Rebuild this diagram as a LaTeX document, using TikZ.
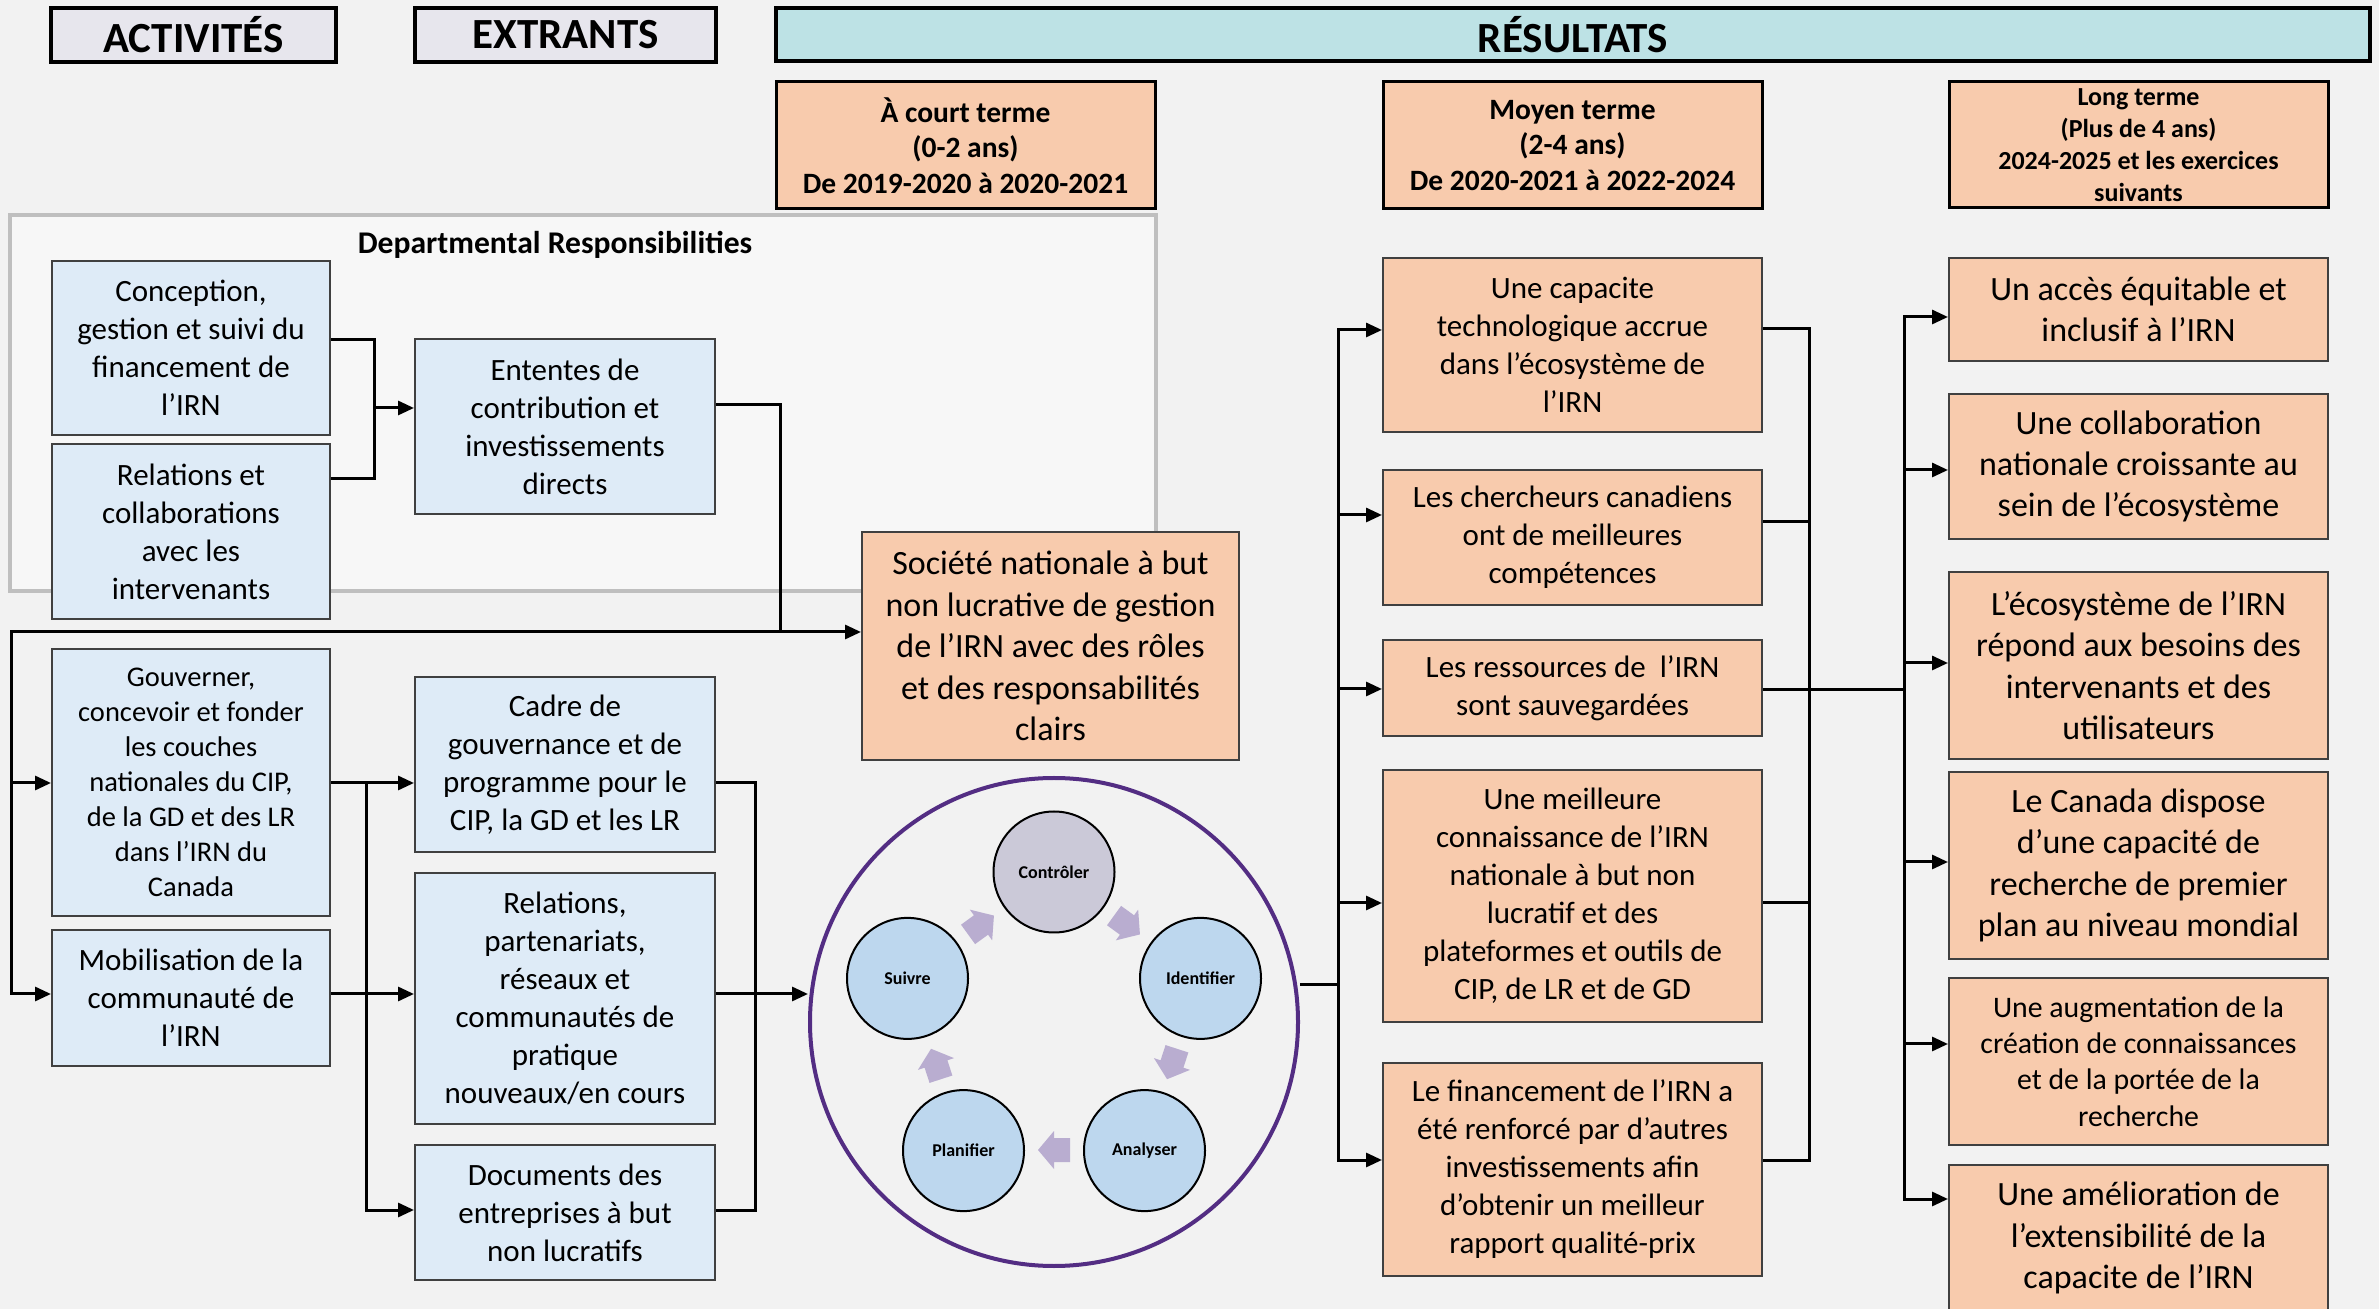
\documentclass[tikz,border=0pt]{standalone}
\usepackage{fontspec}
\setmainfont{Carlito}
\usetikzlibrary{arrows.meta}

\definecolor{bgc}{HTML}{F2F2F2}
\definecolor{deptfill}{HTML}{F7F7F7}
\definecolor{deptline}{HTML}{BFBFBF}
\definecolor{actblue}{HTML}{DEEBF7}
\definecolor{resorange}{HTML}{F8CBAD}
\definecolor{boxline}{HTML}{404040}
\definecolor{hdrgray}{HTML}{E7E6ED}
\definecolor{hdrteal}{HTML}{BDE2E5}
\definecolor{stepblue}{HTML}{BDD7EE}
\definecolor{steplav}{HTML}{CBC9D8}
\definecolor{cyclearrow}{HTML}{B9ADD0}
\definecolor{ringpurple}{HTML}{532D83}

% rectangular node given by its corners (in pixel units of the picture)
% #1 style, #2 name, #3 x1, #4 y1, #5 x2, #6 y2, #7 text
\newcommand\boxat[7]{%
  \node[#1,minimum width={(#5-#3)*0.5pt},minimum height={(#6-#4)*0.5pt}]
    (#2) at ({(#3+#5)/2},{(#4+#6)/2}) {#7};}

% block arrow of the management cycle: #1 x, #2 y, #3 direction
\newcommand\cyclearrowat[3]{%
  \fill[cyclearrow,shift={(#1,#2)},rotate=#3]
    (-16,-12) -- (0,-12) -- (0,-19) -- (16,0) -- (0,19) -- (0,12) -- (-16,12) -- cycle;}

\begin{document}
\begin{tikzpicture}[x=0.5pt,y=-0.5pt,
  conn/.style={line width=1.5pt,draw=black},
  arr/.style={conn,-{Triangle[length=8pt,width=7pt]}},
  arrs/.style={conn,{Triangle[length=8pt,width=7pt]}-{Triangle[length=8pt,width=7pt]}},
  box/.style={draw=boxline,line width=1pt,align=center,inner sep=0pt},
  bodyfont/.style={font=\fontsize{15.5}{19}\selectfont},
  bigfont/.style={font=\fontsize{17}{20.7}\selectfont},
  actbox/.style={box,fill=actblue,bodyfont},
  resbox/.style={box,fill=resorange,bodyfont},
  hdr/.style={draw=black,line width=1.75pt,fill=hdrgray,inner sep=0pt,
    font=\bfseries\fontsize{21.5}{25}\selectfont},
  termbox/.style={draw=black,line width=1.5pt,fill=resorange,align=center,inner sep=0pt,
    font=\bfseries\fontsize{14.75}{17.8}\selectfont},
  stepnode/.style={circle,draw=black,line width=1pt,minimum size=60.5pt,inner sep=0pt,
    fill=stepblue,font=\bfseries\fontsize{9}{11}\selectfont}
]
\useasboundingbox (0,0) rectangle (2379,1309);
\clip (0,0) rectangle (2379,1309);
\fill[bgc] (0,0) rectangle (2379,1309);

% column headers
\boxat{hdr}{hact}{51}{8}{336}{62}{ACTIVITÉS}
\boxat{hdr}{hext}{415}{8}{716}{62}{EXTRANTS}
\boxat{hdr,fill=hdrteal}{hres}{776}{8}{2370}{61}{RÉSULTATS}

% time horizons
\boxat{termbox}{tshort}{776}{82}{1155}{209}{À court terme\\(0-2 ans)\\De 2019-2020 à 2020-2021}
\boxat{termbox}{tmid}{1383}{82}{1762}{209}{Moyen terme\\(2-4 ans)\\De 2020-2021 à 2022-2024}
\boxat{termbox,font=\bfseries\fontsize{13}{16}\selectfont}{tlong}{1949}{82}{2328}{208}{Long terme\\(Plus de 4 ans)\\2024-2025 et les exercices\\suivants}

% departmental responsibilities frame
\boxat{draw=deptline,line width=1.6pt,fill=deptfill}{dept}{10}{215}{1156}{591}{}
\node[font=\bfseries\fontsize{15.8}{19}\selectfont] (depttitle) at (555,245) {Departmental Responsibilities};

% activities
\boxat{actbox}{act1}{52}{261}{330}{435}{Conception,\\gestion et suivi du\\financement de\\l’IRN}
\boxat{actbox}{act2}{52}{444}{330}{619}{Relations et\\collaborations\\avec les\\intervenants}
\boxat{actbox,font=\fontsize{14.25}{17.5}\selectfont}{act3}{52}{649}{330}{916}{Gouverner,\\concevoir et fonder\\les couches\\nationales du CIP,\\de la GD et des LR\\dans l’IRN du\\Canada}
\boxat{actbox}{act4}{52}{930}{330}{1066}{Mobilisation de la\\communauté de\\l’IRN}

% outputs
\boxat{actbox}{out1}{415}{339}{715}{514}{Ententes de\\contribution et\\investissements\\directs}
\boxat{actbox}{out2}{415}{677}{715}{852}{Cadre de\\gouvernance et de\\programme pour le\\CIP, la GD et les LR}
\boxat{actbox}{out3}{415}{873}{715}{1124}{Relations,\\partenariats,\\réseaux et\\communautés de\\pratique\\nouveaux/en cours}
\boxat{actbox}{out4}{415}{1145}{715}{1280}{Documents des\\entreprises à but\\non lucratifs}

% short-term outcome
\boxat{resbox,bigfont}{soc}{862}{532}{1239}{760}{Société nationale à but\\non lucrative de gestion\\de l’IRN avec des rôles\\et des responsabilités\\clairs}

% management cycle
\node[circle,draw=ringpurple,line width=2pt,minimum size=244pt,inner sep=0pt] (cycle) at (1054,1022) {};
\node[stepnode,fill=steplav] (ctl) at (1054,872) {Contrôler};
\node[stepnode] (idf) at (1200.5,978.4) {Identifier};
\node[stepnode] (ana) at (1144.5,1150.6) {Analyser};
\node[stepnode] (pla) at (963.5,1150.6) {Planifier};
\node[stepnode] (sui) at (907.5,978.4) {Suivre};
\cyclearrowat{1127}{925}{-36}
\cyclearrowat{1172}{1064}{-108}
\cyclearrowat{1054}{1150}{180}
\cyclearrowat{936}{1064}{108}
\cyclearrowat{981}{925}{36}

% medium-term outcomes
\boxat{resbox}{m1}{1383}{258}{1762}{432}{Une capacite\\technologique accrue\\dans l’écosystème de\\l’IRN}
\boxat{resbox}{m2}{1383}{470}{1762}{605}{Les chercheurs canadiens\\ont de meilleures\\compétences}
\boxat{resbox}{m3}{1383}{640}{1762}{736}{Les ressources de \ l’IRN\\sont sauvegardées}
\boxat{resbox}{m4}{1383}{770}{1762}{1022}{Une meilleure\\connaissance de l’IRN\\nationale à but non\\lucratif et des\\plateformes et outils de\\CIP, de LR et de GD}
\boxat{resbox}{m5}{1383}{1063}{1762}{1276}{Le financement de l’IRN a\\été renforcé par d’autres\\investissements afin\\d’obtenir un meilleur\\rapport qualité-prix}

% long-term outcomes
\boxat{resbox,bigfont}{l1}{1949}{258}{2328}{361}{Un accès équitable et\\inclusif à l’IRN}
\boxat{resbox,bigfont}{l2}{1949}{394}{2328}{539}{Une collaboration\\nationale croissante au\\sein de l’écosystème}
\boxat{resbox,bigfont}{l3}{1949}{572}{2328}{759}{L’écosystème de l’IRN\\répond aux besoins des\\intervenants et des\\utilisateurs}
\boxat{resbox,bigfont}{l4}{1949}{772}{2328}{959}{Le Canada dispose\\d’une capacité de\\recherche de premier\\plan au niveau mondial}
\boxat{resbox,font=\fontsize{14.9}{18.2}\selectfont}{l5}{1949}{978}{2328}{1145}{Une augmentation de la\\création de connaissances\\et de la portée de la\\recherche}
\boxat{resbox,bigfont}{l6}{1949}{1165}{2328}{1311}{Une amélioration de\\l’extensibilité de la\\capacite de l’IRN}

% junction points of the connector buses
\coordinate (jDept) at (374,408);
\coordinate (jSoc) at (780,632);
\coordinate (jLeft) at (11,632);
\coordinate (jOut) at (366,783);
\coordinate (jCycle) at (1338,985);

% activities -> contribution agreements
\draw[conn] (act1.east |- 0,340) -| (374,479) -- (act2.east |- 0,479);
\draw[arr] (jDept) -- (out1.west |- jDept);

% contribution agreements -> corporation, and the feedback bus on the left
\draw[conn] (out1.east |- 0,405) -| (jSoc);
\draw[arr] (jSoc) -- (soc.west |- jSoc);
\draw[arr] (jSoc) -- (jLeft) |- (act4.west |- 0,994);
\draw[arr] (11,783) -- (act3.west |- 0,783);

% activities -> outputs
\draw[arr] (act3.east |- jOut) -- (out2.west |- jOut);
\draw[arr] (jOut) |- (out4.west |- 0,1210);
\draw[arr] (act4.east |- 0,994) -- (out3.west |- 0,994);

% outputs -> management cycle
\draw[conn] (out2.east |- 0,783) -| (755,1210) -- (out4.east |- 0,1210);
\draw[arr] (out3.east |- 0,994) -- (cycle.west |- 0,994);

% management cycle -> medium-term outcomes
\draw[conn] (cycle.east |- jCycle) -- (jCycle);
\draw[arrs] (m5.west |- 0,1160) -| (1338,330) -- (m1.west |- 0,330);
\draw[arr] (1338,515) -- (m2.west |- 0,515);
\draw[arr] (1338,689) -- (m3.west |- 0,689);
\draw[arr] (1338,903) -- (m4.west |- 0,903);

% medium-term -> long-term outcomes
\draw[conn] (m1.east |- 0,329) -| (1809,1160) -- (m5.east |- 0,1160);
\draw[conn] (m2.east |- 0,522) -- (1809,522);
\draw[conn] (m4.east |- 0,903) -- (1809,903);
\draw[conn] (m3.east |- 0,690) -- (1904,690);
\draw[arrs] (l6.west |- 0,1199) -| (1904,317) -- (l1.west |- 0,317);
\draw[arr] (1904,470) -- (l2.west |- 0,470);
\draw[arr] (1904,663) -- (l3.west |- 0,663);
\draw[arr] (1904,862) -- (l4.west |- 0,862);
\draw[arr] (1904,1044) -- (l5.west |- 0,1044);
\end{tikzpicture}
\end{document}
